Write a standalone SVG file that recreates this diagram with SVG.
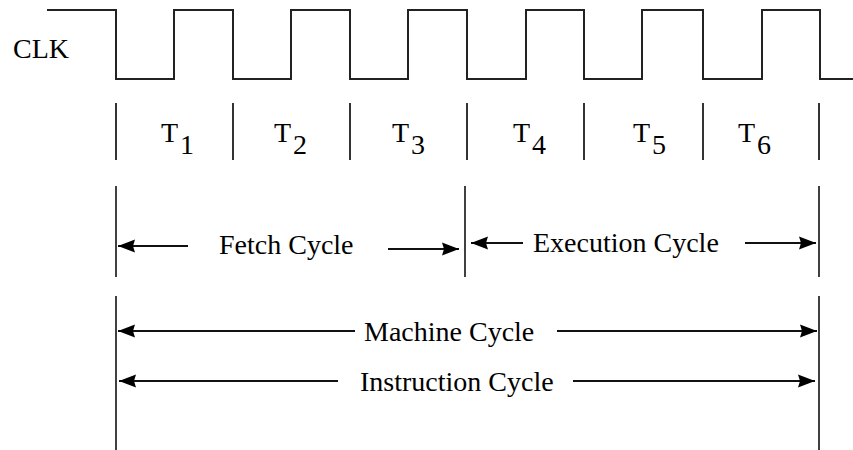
<svg xmlns="http://www.w3.org/2000/svg" width="853" height="450" viewBox="0 0 853 450">
<style>
text{font-family:"Liberation Serif","Times New Roman",serif;font-size:28px;fill:#000}
.clk{fill:none;stroke:#222;stroke-width:2}
.tick{stroke:#333;stroke-width:2}
.vl{stroke:#111;stroke-width:1.6}
.arr{stroke:#111;stroke-width:2;fill:none;marker-end:url(#ah)}
</style>
<defs>
<marker id="ah" markerUnits="userSpaceOnUse" markerWidth="18" markerHeight="16" refX="17" refY="8" orient="auto">
<path d="M0,1.5 L17,8 L0,14.5 L2,8 z" fill="#000"/>
</marker>
</defs>
<rect width="853" height="450" fill="#fff"/>
<g id="clock">
<text x="13" y="58">CLK</text>
<polyline class="clk" points="47,10 116,10 116,79 174,79 174,10 233,10 233,79 291,79 291,10 350,10 350,79 408,79 408,10 467,10 467,79 526,79 526,10 584,10 584,79 642,79 642,10 703,10 703,79 762,79 762,10 820,10 820,79 853,79"/>
</g>
<g id="t-states">
<g class="tick">
<line x1="116" y1="103" x2="116" y2="160"/>
<line x1="233" y1="103" x2="233" y2="160"/>
<line x1="350" y1="103" x2="350" y2="160"/>
<line x1="467" y1="103" x2="467" y2="160"/>
<line x1="584" y1="103" x2="584" y2="160"/>
<line x1="703" y1="103" x2="703" y2="160"/>
<line x1="819" y1="103" x2="819" y2="160"/>
</g>
<g id="T1"><text x="161" y="142">T</text><text x="180" y="154">1</text></g>
<g id="T2"><text x="274" y="142">T</text><text x="293" y="154">2</text></g>
<g id="T3"><text x="392" y="142">T</text><text x="411" y="154">3</text></g>
<g id="T4"><text x="513" y="142">T</text><text x="532" y="154">4</text></g>
<g id="T5"><text x="633" y="142">T</text><text x="652" y="154">5</text></g>
<g id="T6"><text x="738" y="142">T</text><text x="757" y="154">6</text></g>
</g>
<g id="cycles">
<line class="vl" x1="116" y1="186" x2="116" y2="277"/>
<line class="vl" x1="465" y1="186" x2="465" y2="277"/>
<line class="vl" x1="819" y1="186" x2="819" y2="277"/>
<line class="vl" x1="116" y1="296" x2="116" y2="450"/>
<line class="vl" x1="819" y1="296" x2="819" y2="450"/>
<g id="fetch"><text x="219" y="254">Fetch Cycle</text></g>
<g id="execution"><text x="533" y="252">Execution Cycle</text></g>
<g id="machine"><text x="364" y="341">Machine Cycle</text></g>
<g id="instruction"><text x="360" y="391">Instruction Cycle</text></g>
</g>
<g id="connectors">
<line class="arr" x1="188" y1="246" x2="118" y2="246"/>
<line class="arr" x1="388" y1="249" x2="459" y2="249"/>
<line class="arr" x1="523" y1="243" x2="471" y2="243"/>
<line class="arr" x1="745" y1="243" x2="816" y2="243"/>
<line class="arr" x1="355" y1="331" x2="118" y2="331"/>
<line class="arr" x1="557" y1="331" x2="817" y2="331"/>
<line class="arr" x1="338" y1="381" x2="119" y2="381"/>
<line class="arr" x1="573" y1="381" x2="815" y2="381"/>
</g>
</svg>
